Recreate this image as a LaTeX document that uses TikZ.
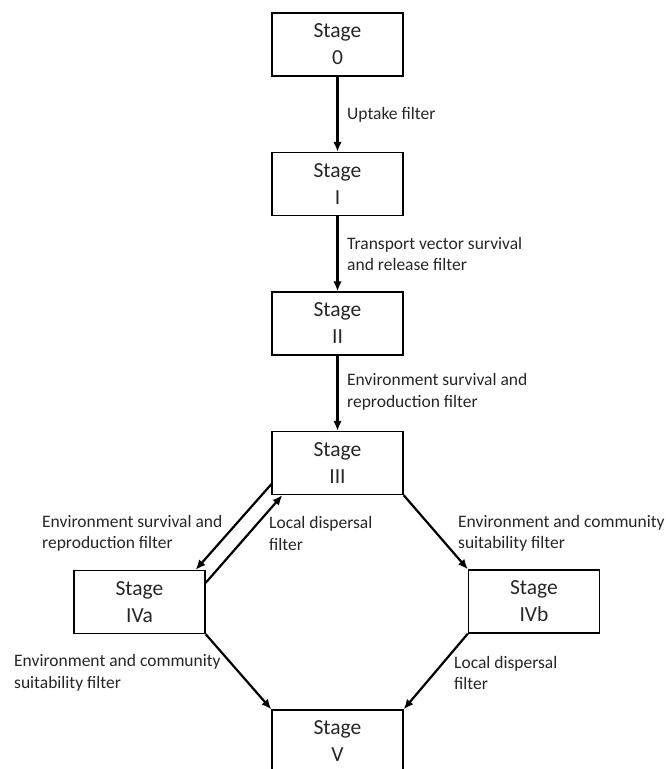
\documentclass[tikz,border=0pt]{standalone}
\usepackage{fontspec}
\setmainfont{Carlito}
\usetikzlibrary{arrows.meta}
\tikzset{
  stagebox/.style={draw=black, line width=1.3pt, minimum width=131pt, minimum height=63pt,
    inner sep=0pt, align=center, font=\fontsize{21.5}{27}\selectfont, text=black!85},
  lbl/.style={anchor=west, inner sep=0pt, align=left, font=\fontsize{17.5}{21.5}\selectfont, text=black!85},
  arr/.style={line width=2.2pt, -{Latex[length=10pt,width=8.5pt]}}
}
\begin{document}
\begin{tikzpicture}[x=1pt,y=-1pt]
\useasboundingbox (0,0) rectangle (665,769);
\clip (0,0) rectangle (665,769);
\node[stagebox] (S0) at (337.5,44.5) {Stage\\0};
\node[stagebox] (S1) at (337.5,184) {Stage\\I};
\node[stagebox] (S2) at (337.5,323.5) {Stage\\II};
\node[stagebox] (S3) at (337.5,463) {Stage\\III};
\node[stagebox] (S4a) at (139.5,602) {Stage\\IVa};
\node[stagebox] (S4b) at (534,601.5) {Stage\\IVb};
\node[stagebox] (S5) at (337.5,741.5) {Stage\\V};

\draw[arr] (S0.south) -- (S1.north);
\draw[arr] (S1.south) -- (S2.north);
\draw[arr] (S2.south) -- (S3.north);
\draw[arr] ([yshift=11pt]S3.south west) -- ([xshift=-10pt]S4a.north east);
\draw[arr] ([yshift=-13pt]S4a.north east) -- ([xshift=11pt]S3.south west);
\draw[arr] (S3.south east) -- (S4b.north west);
\draw[arr] (S4a.south east) -- (S5.north west);
\draw[arr] (S4b.south west) -- (S5.north east);

\node[lbl] (L1) at (347,115) {Uptake filter};
\node[lbl] (L2) at (347,254) {Transport vector survival\\and release filter};
\node[lbl] (L3) at (347,392) {Environment survival and\\reproduction filter};
\node[lbl] (L4) at (42,533.5) {Environment survival and\\reproduction filter};
\node[lbl] (L5) at (269,533.5) {Local dispersal\\filter};
\node[lbl] (L6) at (458,533.5) {Environment and community\\suitability filter};
\node[lbl] (L7) at (14,673) {Environment and community\\suitability filter};
\node[lbl] (L8) at (454,673) {Local dispersal\\filter};
\end{tikzpicture}
\end{document}
